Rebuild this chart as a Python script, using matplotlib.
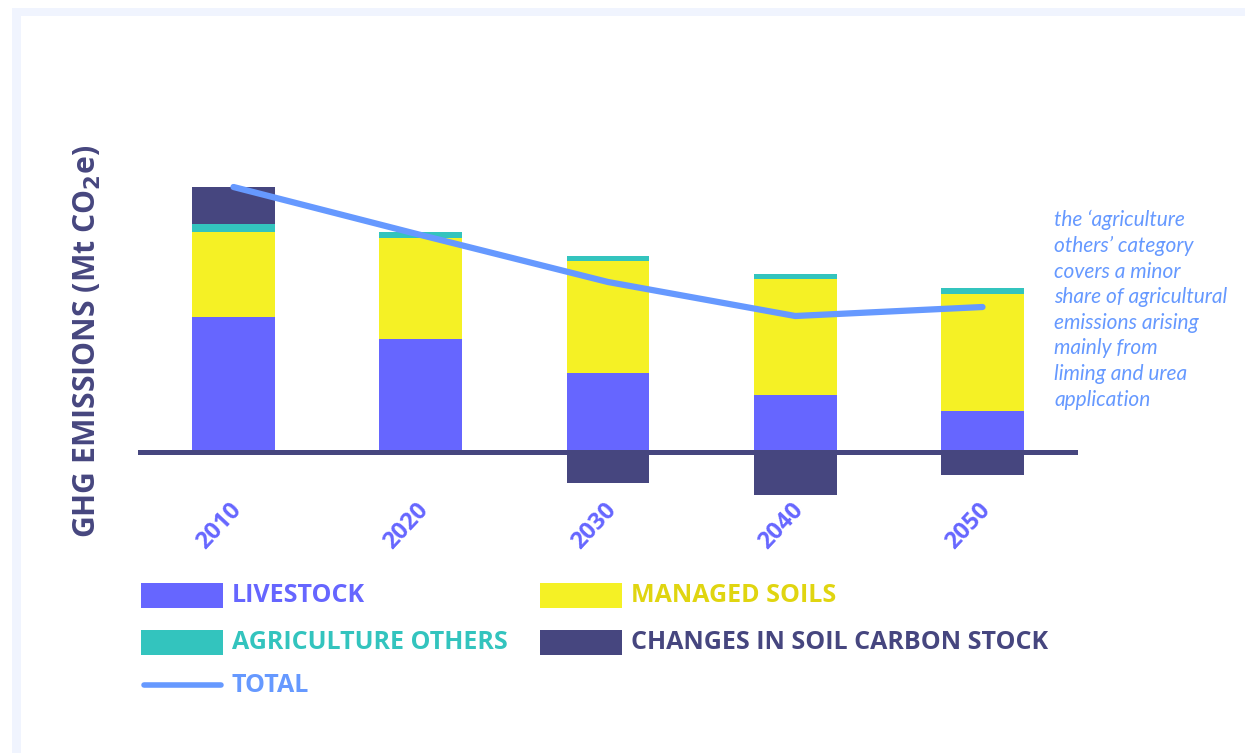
import matplotlib
matplotlib.use('Agg')
import matplotlib.pyplot as plt
import numpy as np
from matplotlib.patches import Rectangle

years = ['2010', '2020', '2030', '2040', '2050']
livestock = [13.5, 11.3, 7.9, 5.7, 4.1]
managed_soils = [8.5, 10.1, 11.2, 11.6, 11.7]
agri_others = [0.8, 0.6, 0.5, 0.5, 0.6]
soil_carbon = [3.7, 0.0, -3.1, -4.3, -2.3]
total = [26.5, 21.7, 17.0, 13.6, 14.5]

c_live = '#6666FF'
c_soil = '#F5F125'
c_other = '#33C4BE'
c_carbon = '#46467F'
c_total = '#6699FF'

W, H = 1245, 753
fig = plt.figure(figsize=(W / 100, H / 100), dpi=100)
fig.patch.set_facecolor('white')

# background panel, pixel coords
bg = fig.add_axes([0, 0, 1, 1], zorder=-1)
bg.set_xlim(0, W)
bg.set_ylim(H, 0)
bg.axis('off')
bg.add_patch(Rectangle((12, 8), W, H, color='#F0F4FE', lw=0))
bg.add_patch(Rectangle((21, 16), W, H, color='white', lw=0))

# main chart
ax = fig.add_axes([138 / W, 1 - 500 / H, 940 / W, 350 / H])
ax.patch.set_alpha(0)
x = np.arange(len(years))
bw = 0.443

live = np.array(livestock)
soils = np.array(managed_soils)
oth = np.array(agri_others)
carb = np.array(soil_carbon)

ax.bar(x, live, bw, color=c_live, zorder=2)
ax.bar(x, soils, bw, bottom=live, color=c_soil, zorder=2)
ax.bar(x, oth, bw, bottom=live + soils, color=c_other, zorder=2)
pos_base = np.where(carb > 0, live + soils + oth, 0)
ax.bar(x, carb, bw, bottom=pos_base, color=c_carbon, zorder=2)

ax.axhline(0, color=c_carbon, lw=3.6, zorder=3)
ax.plot(x, total, color=c_total, lw=4.5, solid_capstyle='round',
        solid_joinstyle='round', zorder=4)

ax.set_xlim(-0.51, 4.51)
ax.set_ylim(-4.8, 30.2)
ax.axis('off')

for xi, yr in zip(x, years):
    ax.text(xi - 0.077, -7.4, yr, rotation=47, ha='center', va='center',
            color=c_live, fontsize=17, fontweight='bold', family='Open Sans',
            clip_on=False)

fig.text(87 / W, 1 - 341 / H, 'GHG EMISSIONS (Mt CO$_\\mathbf{2}$e)', rotation=90,
         ha='center', va='center', color=c_carbon, fontsize=21.7,
         fontweight='bold', family='Open Sans')

note = ("the \u2018agriculture\nothers\u2019 category\ncovers a minor\n"
        "share of agricultural\nemissions arising\nmainly from\n"
        "liming and urea\napplication")
bg.text(1054, 210, note, ha='left', va='top', color=c_total, fontsize=15,
        style='italic', family='Lato', linespacing=1.35)

# legend
leg_names = ['LIVESTOCK', 'MANAGED SOILS', 'AGRICULTURE OTHERS',
             'CHANGES IN SOIL CARBON STOCK']
leg_cols = [c_live, c_soil, c_other, c_carbon]
leg_txt = [c_live, '#E0D510', c_other, c_carbon]
for i, (nm, col, tc) in enumerate(zip(leg_names, leg_cols, leg_txt)):
    px = 141 if i % 2 == 0 else 540
    py = 583 if i < 2 else 630
    bg.add_patch(Rectangle((px, py), 82, 25, color=col, lw=0))
    bg.text(px + 91, py + 12.5, nm, ha='left', va='center', color=tc,
            fontsize=18, fontweight='bold', family='Open Sans')
bg.plot([144, 221], [685, 685], color=c_total, lw=4, solid_capstyle='round')
bg.text(232, 685, 'TOTAL', ha='left', va='center', color=c_total,
        fontsize=18, fontweight='bold', family='Open Sans')

fig.savefig('out.png', dpi=100)
